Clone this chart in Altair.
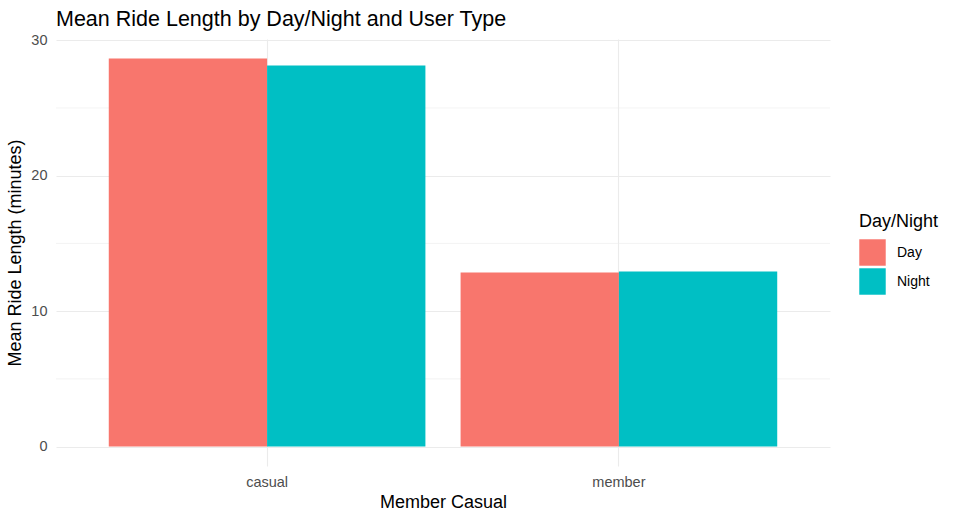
import altair as alt
import pandas as pd

user_types = ["casual", "casual", "member", "member"]
day_night = ["Day", "Night", "Day", "Night"]
mean_minutes = [28.66, 28.14, 12.85, 12.93]
minor_ticks = [5, 15, 25]

df = pd.DataFrame({"member_casual": user_types, "day_night": day_night, "mean_ride": mean_minutes})
minor_df = pd.DataFrame({"v": minor_ticks})

FONT = "Liberation Sans"
Y_DOMAIN = [-1.433, 30.093]

bars = alt.Chart(df).mark_bar().encode(
    x=alt.X("member_casual:N", title="Member Casual",
            scale=alt.Scale(paddingInner=0.1, paddingOuter=0.15),
            axis=alt.Axis(labelAngle=0, grid=True, bandPosition=0.5, ticks=False, domain=False,
                          labelPadding=9, titlePadding=5)),
    xOffset=alt.XOffset("day_night:N", scale=alt.Scale(paddingInner=0, paddingOuter=0)),
    y=alt.Y("mean_ride:Q", title="Mean Ride Length (minutes)", stack=None,
            scale=alt.Scale(domain=Y_DOMAIN, nice=False, zero=False),
            axis=alt.Axis(values=[0, 10, 20, 30], grid=True, ticks=False, domain=False,
                          labelPadding=9, titlePadding=6)),
    y2=alt.datum(0),
    color=alt.Color("day_night:N", title="Day/Night",
                    scale=alt.Scale(domain=["Day", "Night"], range=["#F8766D", "#00BFC4"]),
                    legend=alt.Legend(orient="none", legendX=803, legendY=174,
                                      symbolType="square", symbolSize=700, symbolStrokeWidth=0,
                                      symbolOpacity=1, rowPadding=2, labelOffset=11,
                                      titlePadding=8)),
)

minor = alt.Chart(minor_df).mark_rule(color="#EBEBEB", strokeWidth=0.6).encode(
    y=alt.Y("v:Q", scale=alt.Scale(domain=Y_DOMAIN, nice=False, zero=False))
)

chart = alt.layer(minor, bars).properties(
    width=774, height=427,
    title=alt.TitleParams("Mean Ride Length by Day/Night and User Type", anchor="start",
                          frame="group", fontSize=21.5, font=FONT, fontWeight="normal",
                          color="black", baseline="alphabetic", offset=-15),
    autosize=alt.AutoSizeParams(type="none"),
    padding={"left": 56, "top": 39, "right": 126, "bottom": 55},
).configure(background="white").configure_view(stroke=None).configure_axis(
    gridColor="#EBEBEB", gridWidth=1.1,
    labelFont=FONT, labelFontSize=14.5, labelColor="#4D4D4D",
    titleFont=FONT, titleFontSize=18, titleColor="black", titleFontWeight="normal",
).configure_legend(
    labelFont=FONT, labelFontSize=14, labelColor="black",
    titleFont=FONT, titleFontSize=18, titleColor="black", titleFontWeight="normal",
)

chart.save("out.html", embed_options={"renderer": "svg", "actions": False})
